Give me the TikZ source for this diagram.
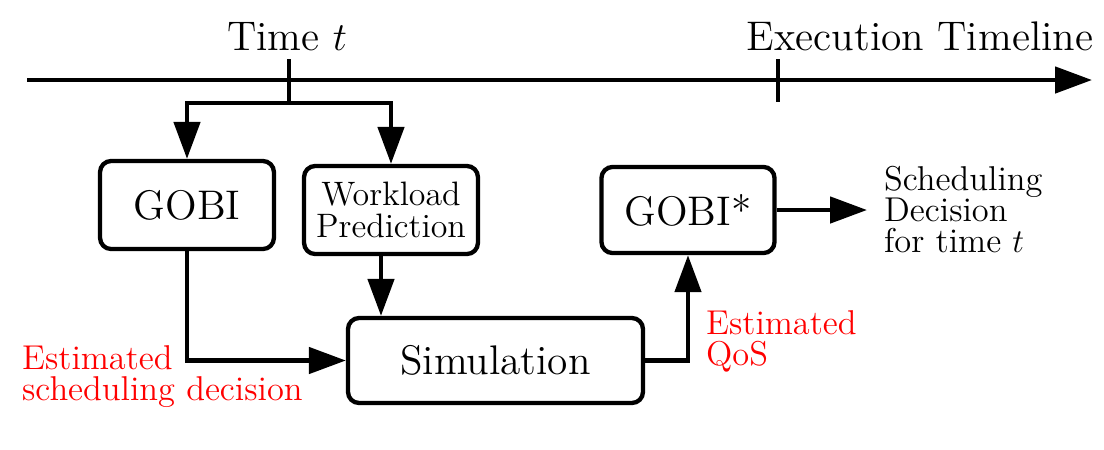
\documentclass[tikz,border=0pt]{standalone}
\usetikzlibrary{arrows.meta}
\begin{document}
\begin{tikzpicture}[x=0.36pt,y=-0.36pt,
  line width=1.55pt,
  arr/.style={-{Triangle[length=13.3pt,width=9.4pt]}},
  box/.style={draw,rounded corners=4pt,line width=1.55pt,align=center,inner sep=0pt},
  bigtxt/.style={font=\fontsize{14.9}{12}\selectfont},
  smalltxt/.style={font=\fontsize{12.4}{11.2}\selectfont},
  redtxt/.style={smalltxt,text=red,align=left,inner sep=0pt}]
\path[use as bounding box] (0,0) rectangle (1104,449);

% timeline
\coordinate (tl0) at (27,80);
\coordinate (tl1) at (1092,80);
\draw[arr] (tl0) -- (tl1);
\coordinate (tk1) at (289,59);
\coordinate (br) at (289,103);
\coordinate (tk2a) at (778,59);
\coordinate (tk2b) at (778,102);
\draw (tk1) -- (br);
\draw (tk2a) -- (tk2b);
\node[bigtxt,anchor=base] (timet) at (287,50) {Time $t$};
\node[bigtxt,anchor=base] (exec) at (920,50) {Execution Timeline};

% boxes
\node[box,bigtxt,minimum width=62.6pt,minimum height=31.7pt] (gobi) at (187,205) {GOBI};
\node[box,font=\fontsize{12.2}{11.6}\selectfont,minimum width=62.6pt,minimum height=31.7pt] (wl) at (391,210) {Workload\\Prediction};
\node[box,bigtxt,minimum width=62.3pt,minimum height=31pt] (gobis) at (688,210) {GOBI*};
\node[box,bigtxt,minimum width=106.2pt,minimum height=30.6pt] (sim) at (495.5,360.5) {Simulation};

% connectors
\draw[arr] (br) -| (gobi.north);
\draw[arr] (br) -| (wl.north);
\draw[arr] (gobi.south) |- (sim.west);
\draw[arr] ([xshift=-3.6pt]wl.south) -- ([xshift=-3.6pt]wl.south |- sim.north);
\draw[arr] (sim.east) -| (gobis.south);
\coordinate (out) at (867,210);
\draw[arr] (gobis.east) -- (out);

% labels
\node[smalltxt,align=left,inner sep=0pt,anchor=north west] (sched) at (882,164) {Scheduling\\Decision\\for time $t$};
\node[redtxt,anchor=north west] (estsd) at (20,343) {Estimated\\scheduling decision};
\node[redtxt,anchor=north west] (estqos) at (704,308) {Estimated\\QoS};
\end{tikzpicture}
\end{document}
